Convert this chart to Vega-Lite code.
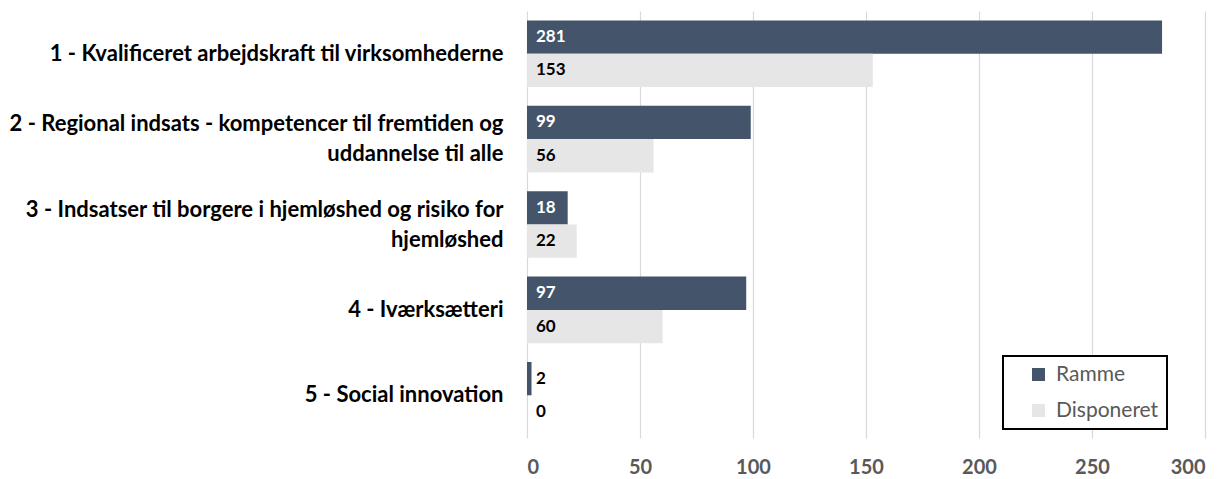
{
  "$schema": "https://vega.github.io/schema/vega-lite/v6.json",
  "autosize": "none",
  "width": 678,
  "height": 427,
  "padding": {"left": 527, "top": 11, "right": 22, "bottom": 41},
  "background": "white",
  "config": {"view": {"stroke": null}, "font": "Lato", "legend": {"strokeWidth": 2}},
  "data": {
    "values": [
      {"omraade": "1 - Kvalificeret arbejdskraft til virksomhederne", "serie": "Ramme", "mio": 281},
      {"omraade": "1 - Kvalificeret arbejdskraft til virksomhederne", "serie": "Disponeret", "mio": 153},
      {"omraade": "2 - Regional indsats - kompetencer til fremtiden og\nuddannelse til alle", "serie": "Ramme", "mio": 99},
      {"omraade": "2 - Regional indsats - kompetencer til fremtiden og\nuddannelse til alle", "serie": "Disponeret", "mio": 56},
      {"omraade": "3 - Indsatser til borgere i hjemløshed og risiko for\nhjemløshed", "serie": "Ramme", "mio": 18},
      {"omraade": "3 - Indsatser til borgere i hjemløshed og risiko for\nhjemløshed", "serie": "Disponeret", "mio": 22},
      {"omraade": "4 - Iværksætteri", "serie": "Ramme", "mio": 97},
      {"omraade": "4 - Iværksætteri", "serie": "Disponeret", "mio": 60},
      {"omraade": "5 - Social innovation", "serie": "Ramme", "mio": 2},
      {"omraade": "5 - Social innovation", "serie": "Disponeret", "mio": 0}
    ]
  },
  "encoding": {
    "y": {
      "field": "omraade", "type": "nominal", "sort": null,
      "scale": {"paddingInner": 0.22, "paddingOuter": 0.11},
      "axis": {
        "title": null, "ticks": false, "domain": false,
        "labelExpr": "split(datum.label, '\\n')",
        "labelFont": "Lato", "labelFontSize": 22, "labelFontWeight": "bold",
        "labelColor": "#000000", "labelPadding": 24, "labelLimit": 560,
        "labelLineHeight": 30,
        "labelOffset": {"condition": {"test": "indexof(datum.value, '\\n') >= 0", "value": -15}, "value": 0}
      }
    },
    "yOffset": {"field": "serie", "type": "nominal", "sort": ["Ramme", "Disponeret"]},
    "x": {
      "field": "mio", "type": "quantitative",
      "scale": {"domain": [0, 300], "nice": false},
      "axis": {
        "title": null, "values": [0, 50, 100, 150, 200, 250, 300],
        "domain": false, "ticks": false,
        "grid": true, "gridColor": "#D9D9D9", "gridWidth": 1.2,
        "labelFont": "Lato", "labelFontSize": 20, "labelFontWeight": "bold",
        "labelColor": "#595959", "labelPadding": 19
      }
    }
  },
  "layer": [
    {
      "mark": {"type": "bar"},
      "encoding": {
        "color": {
          "field": "serie", "type": "nominal",
          "scale": {"domain": ["Ramme", "Disponeret"], "range": ["#44546A", "#E7E6E6"]},
          "legend": {
            "title": null, "orient": "none", "legendX": 476, "legendY": 345,
            "direction": "vertical",
            "strokeColor": "#000000", "fillColor": "white",
            "padding": 8, "symbolOffset": 17, "symbolType": "square", "symbolSize": 169,
            "symbolStrokeWidth": 0,
            "labelExpr": "datum.label + '   '",
            "labelFont": "Lato", "labelFontSize": 21, "labelColor": "#595959",
            "labelOffset": 7, "rowPadding": 14, "labelLimit": 250
          }
        }
      }
    },
    {
      "mark": {"type": "text", "align": "left", "baseline": "middle", "dx": 9, "font": "Lato", "fontSize": 17, "fontWeight": "bold"},
      "encoding": {
        "x": {"datum": 0, "type": "quantitative"},
        "text": {"field": "mio", "type": "quantitative"},
        "color": {
          "condition": {"test": "datum.serie === 'Ramme' && datum.mio >= 10", "value": "#FFFFFF"},
          "value": "#000000"
        }
      }
    }
  ]
}
